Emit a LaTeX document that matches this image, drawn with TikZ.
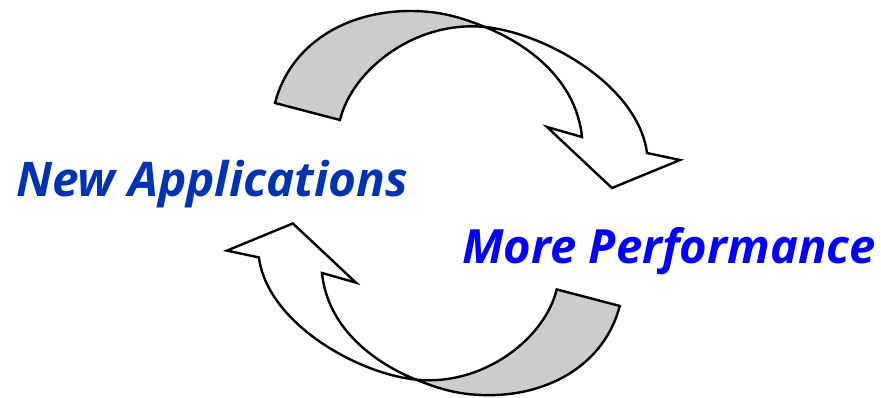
\documentclass[tikz,border=0pt]{standalone}
\usepackage{fontspec}
\setmainfont{Open Sans}
\definecolor{appblue}{RGB}{0,51,180}
\definecolor{perfblue}{RGB}{0,0,255}
\definecolor{bandgray}{RGB}{204,204,204}

\begin{document}
\begin{tikzpicture}[x=1pt,y=-1pt,line width=2.4pt,
  label text/.style={inner sep=0pt,font=\fontsize{#1}{56}\selectfont\bfseries\itshape},
  label text/.default=48]
\useasboundingbox (0,0) rectangle (881,398);

% the two turning arrows, the lower one is the upper one turned round
\foreach \r/\s in {0/1,180/0.97}{
\begin{scope}[rotate around={\r:(450,206)},scale around={\s:(450,206)}]
\filldraw[fill=bandgray] (275,103) .. controls (290,45) and (345,11) .. (410,11)
  .. controls (440,11) and (460,17) .. (485,27)
  .. controls (415,20) and (352,70) .. (340,120) -- cycle;
\filldraw[fill=white] (485,27) .. controls (525,43) and (576,78) .. (582,137)
  -- (547,127) -- (612,188) -- (680,160) -- (647,153)
  .. controls (638,85) and (545,33) .. (485,27) -- cycle;
\end{scope}
}

\node[label text=47.8,text=appblue,anchor=base west] (newapp) at (15,197) {New Applications};
\node[label text=47.2,text=perfblue,anchor=base west] (moreperf) at (461,263) {More Performance};

\end{tikzpicture}
\end{document}
